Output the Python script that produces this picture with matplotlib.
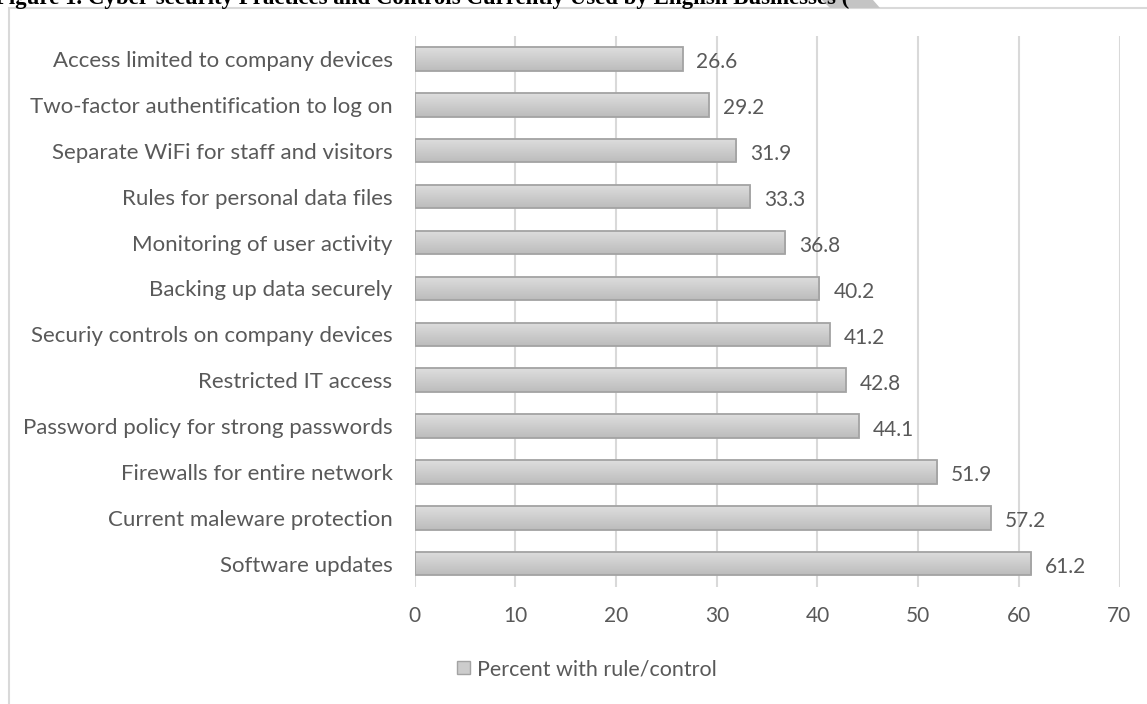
import matplotlib
matplotlib.use("Agg")
import matplotlib.pyplot as plt
import numpy as np
from matplotlib.patches import Rectangle, Polygon

categories = [
    "Access limited to company devices",
    "Two-factor authentification to log on",
    "Separate WiFi for staff and visitors",
    "Rules for personal data files",
    "Monitoring of user activity",
    "Backing up data securely",
    "Securiy controls on company devices",
    "Restricted IT access",
    "Password policy for strong passwords",
    "Firewalls for entire network",
    "Current maleware protection",
    "Software updates",
]
percent = [26.6, 29.2, 31.9, 33.3, 36.8, 40.2, 41.2, 42.8, 44.1, 51.9, 57.2, 61.2]
series_name = "Percent with rule/control"
x_ticks = [0, 10, 20, 30, 40, 50, 60, 70]
title = "Figure 1. Cyber-security Practices and Controls Currently Used by English Businesses ("

plt.rcParams["font.family"] = ["Lato", "DejaVu Sans"]
TXT = "#595959"
GRID = "#d9d9d9"

W, H = 1147, 704
fig = plt.figure(figsize=(W / 100, H / 100), dpi=100)

# outer chart-area frame, running off the right and bottom edges
fig.patches.append(Rectangle((8.5 / W, -0.05), 1.2, 1.05 - 7.5 / H,
                             transform=fig.transFigure, fill=False,
                             edgecolor=GRID, linewidth=1.5))

# heading above the frame (only its lower edge falls on the canvas)
fig.patches.append(Polygon([(822 / W, 1.0), (873 / W, 1.0), (880 / W, 1 - 8 / H), (830 / W, 1 - 8 / H)],
                           closed=True, transform=fig.transFigure,
                           facecolor="#c4c4c4", edgecolor="none"))
fig.text(-0.004, 1 - 4 / H, title, family=["Liberation Serif"], weight="bold",
         fontsize=16.5, color="black", ha="left", va="baseline")

ax = fig.add_axes([414.8 / W, 1 - 586.7 / H, (1119.5 - 414.8) / W, (586.7 - 36) / H])
n = len(categories)
y = np.arange(n)
ax.set_xlim(0, 70)
ax.set_ylim(n - 0.5, -0.5)

bars = ax.barh(y, percent, height=0.51, facecolor="none",
               edgecolor="#a3a3a3", linewidth=1.3, zorder=3)

# vertical grey gradient inside each bar
grad = np.linspace(0, 1, 64).reshape(-1, 1)
cmap = matplotlib.colors.LinearSegmentedColormap.from_list("g", ["#dedede", "#bcbcbc"])
for b in bars:
    x0, y0 = b.get_x(), b.get_y()
    w, h = b.get_width(), b.get_height()
    im = ax.imshow(grad, cmap=cmap, aspect="auto", extent=(x0, x0 + w, y0 + h, y0),
                   origin="upper", zorder=2, interpolation="bilinear")
    im.set_clip_path(b)

for yi, v in zip(y, percent):
    ax.annotate(f"{v:.1f}", (v, yi), xytext=(10, -2.5), textcoords="offset points",
                ha="left", va="center", color=TXT, fontsize=15)

ax.set_yticks(y)
ax.set_yticklabels(categories, fontsize=16)
ax.set_xticks(x_ticks)
ax.tick_params(axis="both", length=0, colors=TXT)
ax.tick_params(axis="x", labelsize=15, pad=14)
ax.tick_params(axis="y", pad=16)
ax.xaxis.grid(True, color=GRID, linewidth=1.5, zorder=0)
ax.set_axisbelow(True)
for s in ax.spines.values():
    s.set_visible(False)

handle = Rectangle((0, 0), 1, 1, facecolor="#cccccc", edgecolor="#a3a3a3", linewidth=1)
leg = fig.legend([handle], [series_name], loc="center", bbox_to_anchor=(587 / W, 1 - 669 / H),
                 frameon=False, fontsize=15.5, handlelength=0.6, handleheight=0.6,
                 handletextpad=0.3, labelcolor=TXT)

fig.savefig("out.png", dpi=100)
